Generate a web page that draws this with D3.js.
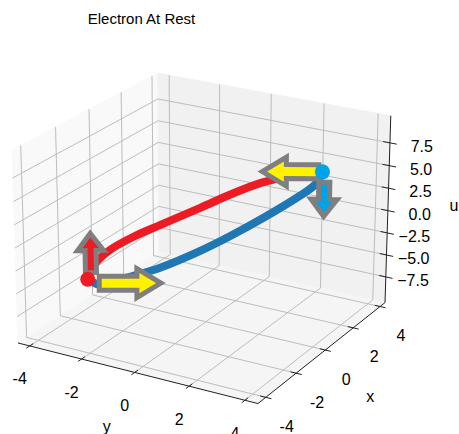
<!DOCTYPE html>
<html>
<head>
<meta charset="utf-8">
<script src="https://cdn.jsdelivr.net/npm/d3@7"></script>
<style>
  body { margin: 0; background: #fff; }
  svg { display: block; }
  text { font-family: "Liberation Sans", Arial, Helvetica, sans-serif; fill: #000; }
</style>
</head>
<body>
<svg id="chart" width="459" height="434"></svg>
<script>
// ---- data ----
const title = "Electron At Rest";
const xTicks = [-4, -2, 0, 2, 4];
const yTicks = [-4, -2, 0, 2, 4];
const uTicks = [-7.5, -5, -2.5, 0, 2.5, 5, 7.5];
const xLim = [-4.5, 4.38];
const yLim = [-4.46, 4.46];
const uLim = [-10.45, 10.45];

// red path (upper arc)
const redX = [-0.97, -0.92, -0.83, -0.69, -0.52, -0.28, -0.10, 0.08, 0.25, 0.43];
const redY = [-4.01, -3.71, -3.20, -2.38, -1.42, -0.03, 0.99, 1.99, 2.98, 4.01];
const redU = [-7.21, -5.20, -3.52, -1.70, 0.06, 2.57, 4.44, 6.08, 7.26, 8.09];
// blue path (lower arc)
const blueX = [-0.97, -0.88, -0.74, -0.52, -0.28, -0.10, 0.10, 0.29, 0.39, 0.43];
const blueY = [-4.01, -3.51, -2.67, -1.42, -0.03, 0.99, 2.10, 3.20, 3.79, 4.01];
const blueU = [-7.21, -7.64, -6.46, -4.67, -2.16, -0.07, 2.39, 5.03, 6.69, 8.09];

// end points
const dotX = [-0.97, 0.43];
const dotY = [-4.01, 4.01];
const dotU = [-7.21, 8.09];

// arrows: red up, yellow right, yellow left, blue down
const arrowTailX = [-0.95, -0.90, 0.41, 0.44];
const arrowTailY = [-3.89, -3.60, 3.89, 4.08];
const arrowTailU = [-6.39, -7.46, 8.05, 7.03];
const arrowTipX = [-0.95, -0.52, 0.09, 0.44];
const arrowTipY = [-3.89, -1.42, 2.03, 4.08];
const arrowTipU = [-1.98, -6.43, 7.31, 3.39];

// ---- styles ----
const dotColors = ["#ed1c24", "#00a2e8"];
const arrowFill = ["#ed1c24", "#fff200", "#fff200", "#00a2e8"];
const arrowShaft = [11, 14, 14, 11];
const arrowHeadW = [26, 29, 29, 26];
const arrowHeadL = [17, 24, 24, 17];

// ---- 3D projection (matplotlib style, perspective) ----
const elev = 22 * Math.PI / 180, azim = -60 * Math.PI / 180, dist = 10;
const aspect = [4, 4, 3];
const an = Math.hypot(...aspect);
const box = aspect.map(a => a * 1.8294640721620434 / an);

const qY = d3.scaleLinear().domain(yLim).range([-box[0] / 2, box[0] / 2]);
const qX = d3.scaleLinear().domain(xLim).range([-box[1] / 2, box[1] / 2]);
const qU = d3.scaleLinear().domain(uLim).range([-box[2] / 2, box[2] / 2]);

const dot3 = (a, b) => a[0] * b[0] + a[1] * b[1] + a[2] * b[2];
const wv = [Math.cos(elev) * Math.cos(azim), Math.cos(elev) * Math.sin(azim), Math.sin(elev)];
const un = Math.hypot(wv[0], wv[1]);
const uv = [-wv[1] / un, wv[0] / un, 0];
const vv = [wv[1] * uv[2] - wv[2] * uv[1], wv[2] * uv[0] - wv[0] * uv[2], wv[0] * uv[1] - wv[1] * uv[0]];

const screenX = d3.scaleLinear().domain([0, 0.1]).range([205, 205 + 238.8]);
const screenY = d3.scaleLinear().domain([0, 0.1]).range([229, 229 - 238.8]);

function project(x, y, u) {
  const q = [qY(y), qX(x), qU(u)];
  const den = dist - dot3(wv, q);
  return [screenX(dot3(uv, q) / den), screenY(dot3(vv, q) / den)];
}

const svg = d3.select("#chart");
const line = d3.line();

// ---- panes ----
const [x0, x1] = xLim, [y0, y1] = yLim, [u0, u1] = uLim;
const panes = [
  { c: "#f9f9f9", p: [[x0, y0, u0], [x1, y0, u0], [x1, y0, u1], [x0, y0, u1]] },
  { c: "#f1f1f1", p: [[x1, y0, u0], [x1, y1, u0], [x1, y1, u1], [x1, y0, u1]] },
  { c: "#f5f5f5", p: [[x0, y0, u0], [x0, y1, u0], [x1, y1, u0], [x1, y0, u0]] }
];
svg.append("g").selectAll("path").data(panes).join("path")
  .attr("d", d => line(d.p.map(p => project(...p))) + "Z")
  .attr("fill", d => d.c)
  .attr("stroke", d => d.c)
  .attr("stroke-width", 0.8);

// ---- grid ----
const grid = [];
xTicks.forEach(t => {
  grid.push([[t, y0, u0], [t, y0, u1]]);
  grid.push([[t, y0, u0], [t, y1, u0]]);
});
yTicks.forEach(t => {
  grid.push([[x1, t, u0], [x1, t, u1]]);
  grid.push([[x0, t, u0], [x1, t, u0]]);
});
uTicks.forEach(t => {
  grid.push([[x0, y0, t], [x1, y0, t]]);
  grid.push([[x1, y0, t], [x1, y1, t]]);
});
svg.append("g").selectAll("path").data(grid).join("path")
  .attr("d", d => line(d.map(p => project(...p))))
  .attr("stroke", "#bdbdbd")
  .attr("stroke-width", 1)
  .attr("fill", "none");

// ---- axis lines and ticks ----
const axes = [
  [[x0, y0, u0], [x0, y1, u0]],
  [[x0, y1, u0], [x1, y1, u0]],
  [[x1, y1, u0], [x1, y1, u1]]
];
const ticks = [];
yTicks.forEach(t => ticks.push([[x0 - 0.2, t, u0], [x0 + 0.2, t, u0]]));
xTicks.forEach(t => ticks.push([[t, y1 - 0.2, u0], [t, y1 + 0.2, u0]]));
uTicks.forEach(t => ticks.push([[x1, y1 - 0.25, t], [x1, y1 + 0.25, t]]));
svg.append("g").selectAll("path").data(axes.concat(ticks)).join("path")
  .attr("d", d => line(d.map(p => project(...p))))
  .attr("stroke", "#222")
  .attr("stroke-width", 1)
  .attr("fill", "none");

// ---- tick labels ----
const fmt = d3.format(".1f");
const lab = svg.append("g").style("font-size", "16px");
yTicks.forEach(t => {
  const [px, py] = project(x0, t, u0);
  lab.append("text").attr("x", px - 10).attr("y", py + 33)
    .attr("text-anchor", "middle").attr("dominant-baseline", "central").text(t);
});
xTicks.forEach(t => {
  const [px, py] = project(t, y1, u0);
  lab.append("text").attr("x", px + 21).attr("y", py + 29)
    .attr("text-anchor", "middle").attr("dominant-baseline", "central").text(t);
});
uTicks.forEach(t => {
  const [px, py] = project(x1, y1, t);
  lab.append("text").attr("x", px + 43).attr("y", py + 3.5)
    .attr("text-anchor", "end").attr("dominant-baseline", "central").text(fmt(t));
});
// axis names
const yMid = project(x0, 0, u0), xMid = project(0, y1, u0), uMid = project(x1, y1, 0);
lab.append("text").attr("x", yMid[0] - 28).attr("y", yMid[1] + 54)
  .attr("text-anchor", "middle").attr("dominant-baseline", "central").text("y");
lab.append("text").attr("x", xMid[0] + 45).attr("y", xMid[1] + 46)
  .attr("text-anchor", "middle").attr("dominant-baseline", "central").text("x");
lab.append("text").attr("x", uMid[0] + 66).attr("y", uMid[1] - 5)
  .attr("text-anchor", "middle").attr("dominant-baseline", "central").text("u");

// ---- curves ----
const curve = d3.line().curve(d3.curveCatmullRom);
const paths = [
  { c: "#1f77b4", x: blueX, y: blueY, u: blueU },
  { c: "#ed1c24", x: redX, y: redY, u: redU }
];
svg.append("g").selectAll("path").data(paths).join("path")
  .attr("d", d => curve(d.x.map((v, i) => project(v, d.y[i], d.u[i]))))
  .attr("stroke", d => d.c)
  .attr("stroke-width", 8)
  .attr("stroke-linecap", "round")
  .attr("fill", "none");

// ---- arrows ----
function arrowShape(t, p, sw, hw, hl) {
  const dx = p[0] - t[0], dy = p[1] - t[1], L = Math.hypot(dx, dy);
  const ux = dx / L, uy = dy / L, nx = -uy, ny = ux;
  const bx = p[0] - ux * hl, by = p[1] - uy * hl;
  return [
    [t[0] + nx * sw / 2, t[1] + ny * sw / 2],
    [bx + nx * sw / 2, by + ny * sw / 2],
    [bx + nx * hw / 2, by + ny * hw / 2],
    p,
    [bx - nx * hw / 2, by - ny * hw / 2],
    [bx - nx * sw / 2, by - ny * sw / 2],
    [t[0] - nx * sw / 2, t[1] - ny * sw / 2]
  ];
}
const arrows = arrowFill.map((c, i) => ({
  c,
  pts: arrowShape(
    project(arrowTailX[i], arrowTailY[i], arrowTailU[i]),
    project(arrowTipX[i], arrowTipY[i], arrowTipU[i]),
    arrowShaft[i], arrowHeadW[i], arrowHeadL[i])
}));
svg.append("g").selectAll("path").data(arrows).join("path")
  .attr("d", d => line(d.pts) + "Z")
  .attr("fill", d => d.c)
  .attr("stroke", "#7f7f7f")
  .attr("stroke-width", 5)
  .attr("stroke-linejoin", "miter");

// ---- end dots ----
svg.append("g").selectAll("circle").data(dotX).join("circle")
  .attr("cx", (d, i) => project(d, dotY[i], dotU[i])[0])
  .attr("cy", (d, i) => project(d, dotY[i], dotU[i])[1])
  .attr("r", 7.5)
  .attr("fill", (d, i) => dotColors[i]);

// ---- title ----
svg.append("text").attr("x", 141.5).attr("y", 24)
  .attr("text-anchor", "middle").style("font-size", "15px").text(title);
</script>
</body>
</html>
